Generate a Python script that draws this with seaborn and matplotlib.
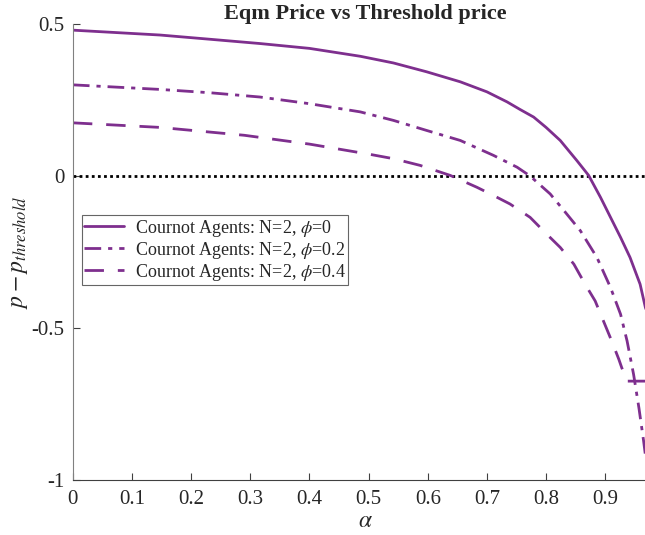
import numpy as np
import pandas as pd
import matplotlib
matplotlib.use("Agg")
import matplotlib.pyplot as plt
import seaborn as sns

# values
alpha_phi0 = [0.0, 0.147, 0.232, 0.316, 0.40, 0.486, 0.542, 0.598, 0.655, 0.70, 0.734,
              0.756, 0.779, 0.80, 0.824, 0.852, 0.872, 0.892, 0.909, 0.926, 0.942, 0.959,
              0.968, 0.975]
gap_phi0 = [0.48, 0.464, 0.45, 0.436, 0.42, 0.394, 0.372, 0.343, 0.310, 0.277, 0.244,
            0.219, 0.194, 0.16, 0.117, 0.051, 0.002, -0.07, -0.136, -0.202, -0.268, -0.356,
            -0.433, -0.47]

alpha_phi02 = [0.0, 0.147, 0.232, 0.316, 0.40, 0.486, 0.542, 0.598, 0.655, 0.711, 0.751,
               0.773, 0.807, 0.835, 0.858, 0.886, 0.909, 0.926, 0.937, 0.948, 0.957, 0.965,
               0.97]
gap_phi02 = [0.30, 0.285, 0.274, 0.26, 0.238, 0.211, 0.183, 0.150, 0.117, 0.068, 0.029,
             0.0, -0.059, -0.125, -0.18, -0.268, -0.367, -0.455, -0.543, -0.653, -0.763, -0.873,
             -0.95]

alpha_phi04 = [0.0, 0.147, 0.29, 0.40, 0.503, 0.542, 0.587, 0.638, 0.683, 0.711, 0.739,
               0.773, 0.801, 0.824, 0.847, 0.866, 0.883, 0.897, 0.911, 0.923, 0.928, 0.933,
               0.936, 0.975]
gap_phi04 = [0.175, 0.16, 0.134, 0.105, 0.071, 0.057, 0.035, 0.002, -0.037, -0.064, -0.092,
             -0.136, -0.191, -0.235, -0.29, -0.356, -0.411, -0.477, -0.543, -0.603, -0.631, -0.655,
             -0.675, -0.675]

labels = ["Cournot Agents: N=2, $\\phi$=0",
          "Cournot Agents: N=2, $\\phi$=0.2",
          "Cournot Agents: N=2, $\\phi$=0.4"]

sns.set_style("ticks")
plt.rcParams["font.family"] = ["Liberation Serif", "DejaVu Serif"]
plt.rcParams["mathtext.fontset"] = "stix"
plt.rcParams["xtick.direction"] = "in"
plt.rcParams["ytick.direction"] = "in"

purple = "#7E2F8E"

fig = plt.figure(figsize=(6.45, 5.35), dpi=100)
ax = fig.add_axes([0.113, 0.103, 0.906, 0.852])

ax.axhline(0, color="black", linestyle=(0, (1, 1.2)), linewidth=2, zorder=1)

df0 = pd.DataFrame({"alpha": alpha_phi0, "gap": gap_phi0})
df1 = pd.DataFrame({"alpha": alpha_phi02, "gap": gap_phi02})
df2 = pd.DataFrame({"alpha": alpha_phi04, "gap": gap_phi04})

sns.lineplot(data=df0, x="alpha", y="gap", ax=ax, color=purple, linewidth=2,
             label=labels[0], sort=False)
sns.lineplot(data=df1, x="alpha", y="gap", ax=ax, color=purple, linewidth=2,
             label=labels[1], sort=False, linestyle=(0, (6, 2.5, 1.5, 2.5)))
sns.lineplot(data=df2, x="alpha", y="gap", ax=ax, color=purple, linewidth=2,
             label=labels[2], sort=False, linestyle=(0, (7, 5)))

ax.set_xlim(0, 0.988)
ax.set_ylim(-1, 0.5)
ax.set_xticks(np.arange(0, 0.95, 0.1))
ax.set_xticklabels(["0", "0.1", "0.2", "0.3", "0.4", "0.5", "0.6", "0.7", "0.8", "0.9"])
ax.set_yticks([-1, -0.5, 0, 0.5])
ax.set_yticklabels(["-1", "-0.5", "0", "0.5"])
ax.tick_params(labelsize=15, length=5, color="#404040")
ax.tick_params(axis="x", pad=7)
ax.tick_params(axis="y", pad=6)

ax.set_xlabel("$\\alpha$", fontsize=17, labelpad=2)
ax.set_ylabel("$p - p_{threshold}$", fontsize=17, labelpad=1)
ax.set_title("Eqm Price vs Threshold price", fontsize=16, fontweight="bold", pad=0)

for s in ["top", "right"]:
    ax.spines[s].set_visible(False)
ax.spines["left"].set_color("#808080")
ax.spines["bottom"].set_color("#404040")

leg = ax.legend(loc="upper left", bbox_to_anchor=(0.015, 0.581), fontsize=13,
                frameon=True, fancybox=False, edgecolor="#404040",
                handlelength=2.2, borderpad=0.15, labelspacing=0.05, handletextpad=0.6,
                borderaxespad=0)
leg.get_frame().set_linewidth(0.8)

fig.savefig("out.png", dpi=100)
